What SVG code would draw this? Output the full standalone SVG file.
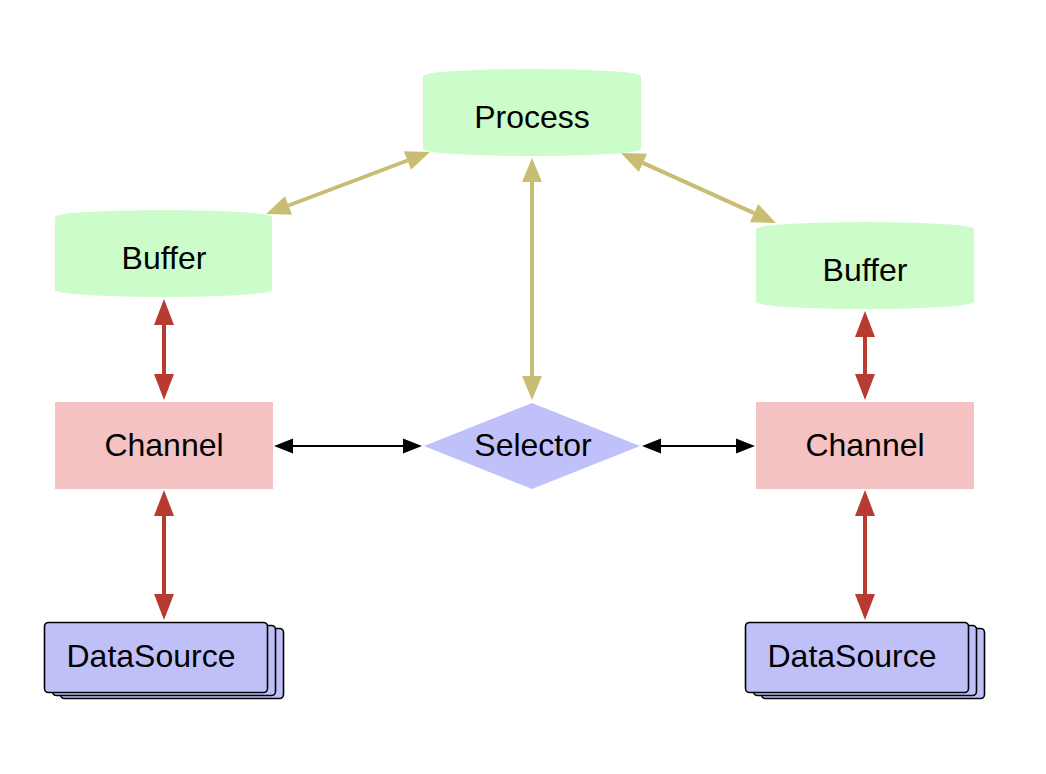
<svg xmlns="http://www.w3.org/2000/svg" width="1046" height="774" viewBox="0 0 1046 774">
<style>
.cyl{fill:#ccfcca;stroke:none}
.chan{fill:#f4c2c2;stroke:none}
.sel{fill:#c0c0fa;stroke:none}
.ds{fill:#c0c0f8;stroke:#000;stroke-width:1.6}
.lbl{font-family:"Liberation Sans",Arial,sans-serif;font-size:32px;fill:#000;text-anchor:middle}
.tan{stroke:#c9bd74;stroke-width:4;fill:none}
.red{stroke:#b83b32;stroke-width:4;fill:none}
.blk{stroke:#000;stroke-width:1.8;fill:none}
</style>
<defs>
<marker id="mt" markerUnits="userSpaceOnUse" markerWidth="24" markerHeight="20" refX="0" refY="10" orient="auto-start-reverse" overflow="visible"><path d="M0,0 L24,10 L0,20 Z" fill="#c9bd74"/></marker>
<marker id="mr" markerUnits="userSpaceOnUse" markerWidth="26" markerHeight="20" refX="0" refY="10" orient="auto-start-reverse" overflow="visible"><path d="M0,0 L26,10 L0,20 Z" fill="#b83b32"/></marker>
<marker id="mb" markerUnits="userSpaceOnUse" markerWidth="19" markerHeight="15" refX="0" refY="7.5" orient="auto-start-reverse" overflow="visible"><path d="M0,0 L19,7.5 L0,15 Z" fill="#000"/></marker>
</defs>
<rect width="1046" height="774" fill="#fff"/>
<g id="connectors">
<line class="tan" x1="288.5" y1="205.5" x2="407.5" y2="160.5" marker-start="url(#mt)" marker-end="url(#mt)"/>
<line class="tan" x1="642.9" y1="162.9" x2="754.1" y2="213.1" marker-start="url(#mt)" marker-end="url(#mt)"/>
<line class="tan" x1="532" y1="182" x2="532" y2="376" marker-start="url(#mt)" marker-end="url(#mt)"/>
<line class="red" x1="164" y1="325" x2="164" y2="374" marker-start="url(#mr)" marker-end="url(#mr)"/>
<line class="red" x1="164" y1="516" x2="164" y2="594" marker-start="url(#mr)" marker-end="url(#mr)"/>
<line class="red" x1="865" y1="337" x2="865" y2="374" marker-start="url(#mr)" marker-end="url(#mr)"/>
<line class="red" x1="865" y1="516" x2="865" y2="594" marker-start="url(#mr)" marker-end="url(#mr)"/>
<line class="blk" x1="293" y1="446" x2="403" y2="446" marker-start="url(#mb)" marker-end="url(#mb)"/>
<line class="blk" x1="661" y1="446" x2="736" y2="446" marker-start="url(#mb)" marker-end="url(#mb)"/>
</g>
<g id="process">
<path class="cyl" d="M423,76 A109,7 0 0 1 641,76 V149 A109,7 0 0 1 423,149 Z"/>
<text class="lbl" x="532" y="128">Process</text>
</g>
<g id="buffer-left">
<path class="cyl" d="M55,217 A108.5,7 0 0 1 272,217 V290 A108.5,7 0 0 1 55,290 Z"/>
<text class="lbl" x="164" y="269">Buffer</text>
</g>
<g id="buffer-right">
<path class="cyl" d="M756,229 A109,7 0 0 1 974,229 V302 A109,7 0 0 1 756,302 Z"/>
<text class="lbl" x="865" y="281">Buffer</text>
</g>
<g id="channel-left">
<rect class="chan" x="55" y="402" width="218" height="87"/>
<text class="lbl" x="164" y="456">Channel</text>
</g>
<g id="selector">
<polygon class="sel" points="424,446 532,403 640,446 532,489"/>
<text class="lbl" x="533" y="456">Selector</text>
</g>
<g id="channel-right">
<rect class="chan" x="756" y="402" width="218" height="87"/>
<text class="lbl" x="865" y="456">Channel</text>
</g>
<g id="datasource-left">
<rect class="ds" x="60.5" y="628.5" width="223" height="70" rx="4"/>
<rect class="ds" x="52.5" y="625.5" width="223" height="70" rx="4"/>
<rect class="ds" x="44.5" y="622.5" width="223" height="70" rx="4"/>
<text class="lbl" x="151" y="667">DataSource</text>
</g>
<g id="datasource-right">
<rect class="ds" x="761.5" y="628.5" width="223" height="70" rx="4"/>
<rect class="ds" x="753.5" y="625.5" width="223" height="70" rx="4"/>
<rect class="ds" x="745.5" y="622.5" width="223" height="70" rx="4"/>
<text class="lbl" x="852" y="667">DataSource</text>
</g>
</svg>
